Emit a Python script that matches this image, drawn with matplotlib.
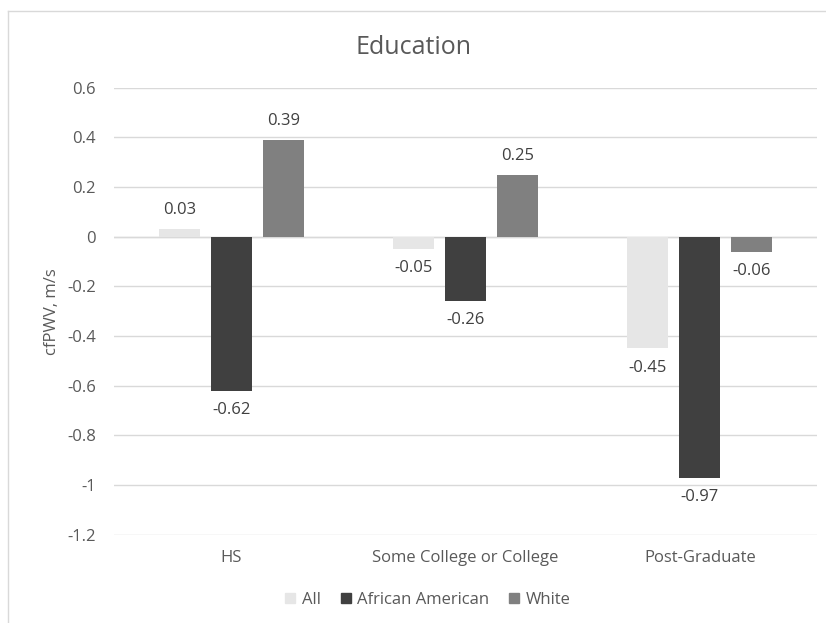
import matplotlib
matplotlib.use("Agg")
import matplotlib.pyplot as plt
import numpy as np
from matplotlib.lines import Line2D

categories = ["HS", "Some College or College", "Post-Graduate"]
series_names = ["All", "African American", "White"]
all_vals = [0.03, -0.05, -0.45]
aa_vals = [-0.62, -0.26, -0.97]
white_vals = [0.39, 0.25, -0.06]
yticks = [0.6, 0.4, 0.2, 0, -0.2, -0.4, -0.6, -0.8, -1, -1.2]
ytick_labels = ["0.6", "0.4", "0.2", "0", "-0.2", "-0.4", "-0.6", "-0.8", "-1", "-1.2"]

colors = ["#E6E6E6", "#404040", "#808080"]
text_color = "#595959"
grid_color = "#D9D9D9"
plt.rcParams['font.family'] = ['Open Sans', 'DejaVu Sans']
fs = 12

W, H = 826, 623
fig = plt.figure(figsize=(W / 100, H / 100), dpi=100)
left, right, top, bottom = 114, 817, 87.7, 534.7
ax = fig.add_axes([left / W, 1 - bottom / H, (right - left) / W, (bottom - top) / H])

x = np.arange(len(categories))
bw = 41 / 234.5
step = 52 / 234.5
data = [all_vals, aa_vals, white_vals]
for i, (name, vals, c) in enumerate(zip(series_names, data, colors)):
    pos = x + (i - 1) * step
    ax.bar(pos, vals, width=bw, color=c, label=name, zorder=3)
    for p, v in zip(pos, vals):
        if v >= 0:
            ax.annotate(f"{v:.2f}", (p, v), xytext=(0, 8), textcoords="offset points",
                        ha="center", va="bottom", fontsize=fs, color="#404040")
        else:
            ax.annotate(f"{v:.2f}", (p, v), xytext=(0, -8), textcoords="offset points",
                        ha="center", va="top", fontsize=fs, color="#404040")

ax.set_xlim(-0.5, 2.5)
ax.set_ylim(-1.2, 0.6)
ax.set_yticks(yticks)
ax.set_yticklabels(ytick_labels)
ax.set_xticks(x)
ax.set_xticklabels(categories)
ax.tick_params(axis="y", length=0, pad=13, labelsize=fs, labelcolor=text_color)
ax.tick_params(axis="x", length=0, pad=0, labelsize=fs, labelcolor=text_color)
for lab in ax.get_xticklabels():
    lab.set_y(-0.035)
ax.grid(axis="y", color=grid_color, linewidth=1, zorder=0)
for s in ax.spines.values():
    s.set_visible(False)
ax.axhline(0, color=grid_color, linewidth=1, zorder=2)

ax.set_ylabel("cfPWV, m/s", fontsize=fs, color=text_color, labelpad=5)
fig.text(0.5, 1 - 47 / H, "Education", ha="center", va="center", fontsize=18, color=text_color)

handles = [plt.Rectangle((0, 0), 1, 1, color=c) for c in colors]
fig.legend(handles, series_names, loc="center", bbox_to_anchor=(428 / W, 1 - 600 / H),
           ncol=3, frameon=False, fontsize=fs, labelcolor=text_color,
           handlelength=0.6, handleheight=0.6, handletextpad=0.4, columnspacing=1.2)

# chart frame
fig.add_artist(Line2D([8 / W, 8 / W], [0, 1 - 11 / H], color=grid_color, lw=1, transform=fig.transFigure))
fig.add_artist(Line2D([8 / W, 1], [1 - 11 / H, 1 - 11 / H], color=grid_color, lw=1, transform=fig.transFigure))

fig.savefig("out.png", dpi=100)
